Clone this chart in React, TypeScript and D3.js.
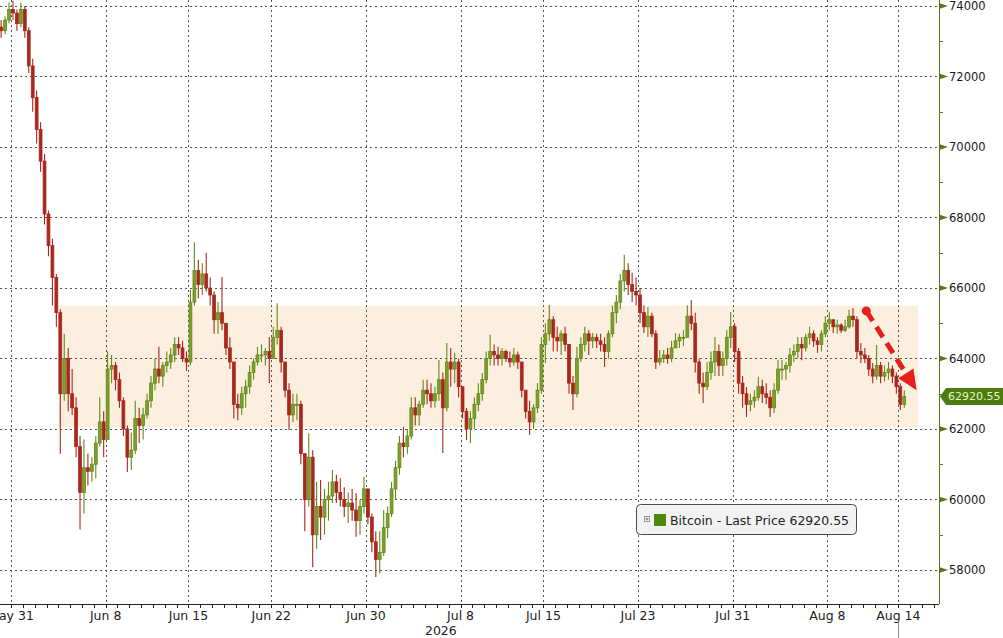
import * as React from "react";
import * as d3 from "d3";

const W = 1003;
const H = 638;
const plotRight = 939;
const plotBottom = 604;
const font = "Tahoma, 'DejaVu Sans', sans-serif";

// 8-hour candles, [high, low, close]; open = previous close
const firstOpen = 73400;
const seriesStart = new Date(2026, 4, 30);
const barHours = 8;

const mayBars = [
  [73600, 73100, 73300], [73700, 73200, 73600], [74100, 73500, 73900],
  [74150, 73600, 73800], [73900, 73300, 73500], [74100, 73400, 73900],
];

const juneBars = [
  [74000, 73100, 73300], [73400, 72100, 72300], [72500, 71000, 71400],
  [71600, 70100, 70500], [70700, 69300, 69600], [69800, 67800, 68100],
  [68200, 66900, 67200], [67400, 65500, 66300], [66400, 64900, 65300],
  [65400, 61300, 63000], [64700, 62800, 64000], [64300, 62500, 63000],
  [63700, 62400, 62600], [62900, 61200, 61500], [61800, 59150, 60200],
  [61700, 59600, 60900], [61300, 60400, 60800], [61200, 60500, 61000],
  [61800, 60600, 61600], [62900, 61500, 62200], [62500, 61200, 61700],
  [64200, 61700, 63700], [64100, 63300, 63800], [63900, 63100, 63400],
  [63600, 62600, 62800], [62900, 61800, 62000], [62100, 60780, 61200],
  [61900, 60840, 61400], [62800, 61300, 62300], [62600, 61600, 62100],
  [62600, 61700, 62400], [63000, 62300, 62800], [63500, 62600, 63300],
  [64000, 63100, 63700], [64330, 63300, 63500], [63900, 63200, 63800],
  [64200, 63600, 63900], [64300, 63700, 64100], [64600, 63900, 64400],
  [64610, 64100, 64300], [64500, 63900, 64000], [64200, 63650, 63900],
  [65950, 63800, 65600], [67300, 65500, 66500], [66800, 65700, 66100],
  [66700, 65800, 66400], [67000, 65900, 66000], [66300, 65500, 65800],
  [65900, 64700, 65100], [65600, 64700, 65300], [66310, 64800, 65000],
  [65000, 64100, 64300], [64600, 63700, 63900], [63900, 62300, 62700],
  [63000, 62250, 62600], [63200, 62400, 63000], [63400, 62600, 63200],
  [63800, 63000, 63600], [64000, 63400, 63900], [64330, 63800, 64100],
  [64400, 63900, 64100], [64300, 63800, 64200], [64610, 63300, 64000],
  [64900, 64000, 64600], [65570, 64400, 64800], [64900, 63600, 63900],
  [63900, 62900, 63100], [63300, 61970, 62400], [63000, 62200, 62700],
  [63000, 62250, 62700], [62800, 61000, 61300], [61300, 59100, 60000],
  [61880, 59800, 61200], [61400, 58080, 59000], [60500, 58600, 59800],
  [60550, 58850, 59500], [60300, 59000, 60000], [60500, 59400, 60100],
  [60840, 59900, 60500], [60700, 59900, 60200], [60600, 59800, 60000],
  [60350, 59500, 59800], [60200, 59330, 59900], [60300, 59400, 59700],
  [60180, 58940, 59400], [60000, 59000, 59800], [60640, 59600, 60300],
  [60300, 59300, 59500], [59600, 58500, 58800], [59100, 57800, 58300],
];

const julyBars = [
  [59100, 57900, 58500], [59700, 58400, 59200], [59800, 58900, 59600],
  [60500, 59500, 60300], [61100, 60000, 60900], [61800, 60700, 61600],
  [62060, 61200, 61500], [62000, 61300, 61800], [62900, 61700, 62600],
  [62900, 62100, 62400], [62800, 62100, 62700], [63400, 62600, 63100],
  [63400, 62700, 63000], [63300, 62600, 62800], [63200, 62600, 63000],
  [63960, 62800, 63400], [63600, 61320, 62600], [64440, 62500, 63900],
  [64300, 63200, 63700], [64160, 63300, 63900], [64000, 62900, 63200],
  [63200, 62300, 62500], [62600, 61690, 62000], [62500, 61600, 62300],
  [62900, 62000, 62700], [63300, 62500, 63000], [63590, 62800, 63400],
  [64200, 63300, 64000], [64670, 63800, 64200], [64400, 63800, 64100],
  [64330, 63800, 64000], [64300, 63800, 64200], [64250, 63900, 64000],
  [64200, 63750, 63900], [64300, 63800, 64100], [64200, 63700, 63900],
  [63900, 62900, 63100], [63100, 62300, 62500], [62800, 61830, 62200],
  [62700, 62000, 62600], [63300, 62450, 63100], [64600, 63000, 64400],
  [65000, 63870, 64700], [65520, 64500, 65100], [65200, 64200, 64600],
  [64900, 64200, 64500], [64800, 64100, 64700], [64900, 64200, 64400],
  [64400, 63000, 63300], [63500, 62540, 63000], [64330, 62900, 64000],
  [64600, 63900, 64400], [64900, 64200, 64700], [64800, 64100, 64500],
  [64720, 64300, 64600], [64700, 64300, 64500], [64700, 64200, 64400],
  [64600, 63760, 64200], [64800, 64000, 64700], [65500, 64600, 65300],
  [65800, 65000, 65600], [66400, 65400, 66200], [66940, 65900, 66500],
  [66700, 65800, 66100], [66430, 65600, 65900], [66300, 65500, 65800],
  [66000, 65000, 65300], [65500, 64720, 64900], [65460, 64610, 65200],
  [65300, 64600, 64700], [64800, 63700, 63900], [64240, 63800, 64000],
  [64240, 63870, 64100], [64300, 63850, 64000], [64500, 63900, 64300],
  [64720, 64300, 64500], [64700, 64300, 64600], [64800, 64350, 64600],
  [65500, 64600, 65200], [65660, 64800, 65000], [65300, 63600, 63900],
  [64000, 63000, 63300], [63600, 62740, 63200], [63900, 63100, 63600],
  [64200, 63400, 63900], [64610, 63500, 64200], [64400, 63500, 63800],
  [64200, 63500, 64000], [64800, 63800, 64600], [65320, 64300, 64900],
  [65000, 63900, 64200], [64300, 63000, 63300], [63500, 62600, 63000],
];

const augustBars = [
  [63190, 62340, 62700], [63000, 62500, 62800], [63100, 62600, 62900],
  [63480, 62800, 63200], [63400, 62740, 63000], [63300, 62700, 62900],
  [63100, 62340, 62600], [63300, 62450, 63100], [63960, 63000, 63700],
  [63960, 63400, 63700], [63900, 63400, 63800], [64300, 63600, 64100],
  [64400, 63900, 64200], [64610, 64000, 64400], [64600, 63950, 64300],
  [64700, 64200, 64600], [64900, 64400, 64700], [64800, 64330, 64500],
  [64600, 64160, 64400], [64800, 64200, 64700], [65200, 64600, 65000],
  [65320, 64800, 65100], [65100, 64720, 64900], [65100, 64700, 64950],
  [65000, 64720, 64800], [65100, 64750, 64900], [65380, 64850, 65200],
  [65430, 64900, 65100], [65200, 64000, 64200], [64440, 63870, 64100],
  [64300, 63870, 64000], [64100, 63500, 63700], [63870, 63300, 63500],
  [64380, 63400, 63800], [63900, 63300, 63500], [63800, 63350, 63600],
  [63900, 63400, 63700], [63800, 63300, 63500], [63600, 63000, 63200],
  [63300, 62540, 62700], [63100, 62600, 62920.55],
];

const tickDates = [
  new Date(2026, 4, 31), new Date(2026, 5, 8), new Date(2026, 5, 15),
  new Date(2026, 5, 22), new Date(2026, 5, 30), new Date(2026, 6, 8),
  new Date(2026, 6, 15), new Date(2026, 6, 23), new Date(2026, 6, 31),
  new Date(2026, 7, 8), new Date(2026, 7, 14),
];
const tickLabels = [
  "May 31", "Jun 8", "Jun 15", "Jun 22", "Jun 30", "Jul 8",
  "Jul 15", "Jul 23", "Jul 31", "Aug 8", "Aug 14",
];
const yearLabel = "2026";
const yearLabelDate = new Date(2026, 6, 6, 8);
const currentDate = new Date(2026, 7, 14);

const priceTicks = d3.range(58000, 74001, 2000);
const minorPriceTicks = d3.range(59000, 74000, 2000);
const lastPrice = 62920.55;
const legendText = "Bitcoin - Last Price 62920.55";

const bandValues = [62050, 65500];
const bandDates = [new Date(2026, 5, 4), new Date(2026, 7, 15, 16)];
const arrowFrom = { date: new Date(2026, 7, 11, 7), value: 65350 };
const arrowTo = { date: new Date(2026, 7, 15, 13), value: 63100 };

const upColor = "#5f8a18";
const upFill = "#7f9f2c";
const downColor = "#a8281e";
const axisGreen = "#55781a";
const arrowRed = "#e5201b";

export default function App() {
  const x = d3
    .scaleTime()
    .domain([new Date(2026, 4, 30, 1, 40), new Date(2026, 7, 17, 10, 30)])
    .range([0, plotRight]);
  const y = d3.scaleLinear().domain([57035, 74170]).range([plotBottom, 0]);

  const all = [...mayBars, ...juneBars, ...julyBars, ...augustBars];
  const bars = all.map((b, i) => ({
    t: d3.timeHour.offset(seriesStart, i * barHours + barHours / 2),
    open: i === 0 ? firstOpen : all[i - 1][2],
    high: b[0],
    low: b[1],
    close: b[2],
  }));
  const step = x(d3.timeHour.offset(seriesStart, barHours)) - x(seriesStart);
  const bodyW = step * 0.72;

  const dayTicks = d3
    .timeDay.range(new Date(2026, 4, 30), new Date(2026, 7, 18))
    .filter((d) => x(d) >= 0 && x(d) <= plotRight);

  // arrow geometry
  const ax0 = x(arrowFrom.date);
  const ay0 = y(arrowFrom.value);
  const ax1 = x(arrowTo.date);
  const ay1 = y(arrowTo.value);
  const len = Math.hypot(ax1 - ax0, ay1 - ay0);
  const ux = (ax1 - ax0) / len;
  const uy = (ay1 - ay0) / len;
  const headL = 20;
  const headW = 9;
  const bx = ax1 - ux * headL;
  const by = ay1 - uy * headL;
  const head = [
    [ax1, ay1],
    [bx - uy * headW, by + ux * headW],
    [bx + uy * headW, by - ux * headW],
  ]
    .map((p) => p.join(","))
    .join(" ");

  const ly = y(lastPrice);

  return (
    <svg
      width={W}
      height={H}
      style={{ position: "absolute", left: 0, top: 0, background: "#fff" }}
      fontFamily={font}
    >
      <defs>
        <clipPath id="plot">
          <rect x={0} y={0} width={plotRight} height={plotBottom} />
        </clipPath>
      </defs>

      {/* highlighted range */}
      <rect
        x={x(bandDates[0])}
        y={y(bandValues[1])}
        width={x(bandDates[1]) - x(bandDates[0])}
        height={y(bandValues[0]) - y(bandValues[1])}
        fill="#fdefdf"
      />

      {/* grid */}
      {priceTicks.map((v) => (
        <line
          key={"h" + v}
          x1={0}
          x2={plotRight}
          y1={Math.round(y(v)) + 0.5}
          y2={Math.round(y(v)) + 0.5}
          stroke="#555"
          strokeDasharray="2,3"
        />
      ))}
      {tickDates.map((d, i) => (
        <line
          key={"v" + i}
          x1={Math.round(x(d)) + 0.5}
          x2={Math.round(x(d)) + 0.5}
          y1={0}
          y2={plotBottom}
          stroke="#555"
          strokeDasharray="2,3"
        />
      ))}

      {/* candles */}
      <g clipPath="url(#plot)">
        {bars.map((b, i) => {
          const up = b.close >= b.open;
          const c = up ? upColor : downColor;
          const cx = x(b.t);
          const top = y(Math.max(b.open, b.close));
          const h = Math.max(1, y(Math.min(b.open, b.close)) - top);
          return (
            <g key={i}>
              <line x1={cx} x2={cx} y1={y(b.high)} y2={y(b.low)} stroke={c} strokeWidth={1.1} />
              <rect
                x={cx - bodyW / 2}
                y={top}
                width={bodyW}
                height={h}
                fill={up ? upFill : downColor}
                stroke={c}
                strokeWidth={0.8}
              />
            </g>
          );
        })}
      </g>

      {/* arrow annotation */}
      <line
        x1={ax0}
        y1={ay0}
        x2={bx + ux * 2}
        y2={by + uy * 2}
        stroke={arrowRed}
        strokeWidth={5}
        strokeDasharray="12,7"
      />
      <circle cx={ax0} cy={ay0} r={4.5} fill={arrowRed} />
      <polygon points={head} fill={arrowRed} />

      {/* bottom axis */}
      <line x1={0} x2={plotRight} y1={plotBottom + 0.5} y2={plotBottom + 0.5} stroke="#222" />
      {dayTicks.map((d, i) => (
        <line
          key={"d" + i}
          x1={Math.round(x(d)) + 0.5}
          x2={Math.round(x(d)) + 0.5}
          y1={plotBottom}
          y2={plotBottom + 4}
          stroke="#222"
        />
      ))}
      {tickDates.map((d, i) => (
        <text
          key={"xl" + i}
          x={x(d)}
          y={620}
          textAnchor="middle"
          fontSize={12.5}
          fill="#222"
        >
          {tickLabels[i]}
        </text>
      ))}
      <text x={x(yearLabelDate)} y={635} textAnchor="middle" fontSize={12.5} fill="#222">
        {yearLabel}
      </text>
      <line
        x1={Math.round(x(currentDate)) + 0.5}
        x2={Math.round(x(currentDate)) + 0.5}
        y1={621}
        y2={H}
        stroke="#888"
      />

      {/* right axis */}
      <line x1={plotRight + 0.5} x2={plotRight + 0.5} y1={0} y2={plotBottom} stroke={axisGreen} />
      {minorPriceTicks.map((v) => (
        <line
          key={"m" + v}
          x1={plotRight}
          x2={plotRight + 4}
          y1={Math.round(y(v)) + 0.5}
          y2={Math.round(y(v)) + 0.5}
          stroke={axisGreen}
        />
      ))}
      {priceTicks.map((v) => (
        <g key={"yl" + v}>
          <polygon
            points={`${plotRight},${y(v) - 3} ${plotRight + 9},${y(v)} ${plotRight},${y(v) + 3}`}
            fill={axisGreen}
          />
          <text x={949} y={y(v)} dy="0.36em" fontSize={11.5} fill="#1a1a1a">
            {v}
          </text>
        </g>
      ))}

      {/* last price tag */}
      <polygon
        points={`${plotRight + 1},${ly} ${plotRight + 7},${ly - 8.5} ${W},${ly - 8.5} ${W},${ly + 8.5} ${plotRight + 7},${ly + 8.5}`}
        fill="#4d7b10"
      />
      <text x={948} y={ly} dy="0.36em" fontSize={11} fill="#e6f4c6">
        {lastPrice.toFixed(2)}
      </text>

      {/* legend */}
      <rect x={636.5} y={504.5} width={220} height={30} rx={4} fill="#f2f2f2" stroke="#4a4a4a" />
      <rect x={644.5} y={516.5} width={5} height={5} fill="#fff" stroke="#999" />
      <line x1={645.5} x2={648.5} y1={519} y2={519} stroke="#777" />
      <line x1={647} x2={647} y1={517.5} y2={520.5} stroke="#777" />
      <rect x={654} y={514} width={12} height={12} fill="#4e8a0e" />
      <text
        x={670}
        y={525}
        fontSize={13}
        fill="#222"
        textLength={179}
        lengthAdjust="spacingAndGlyphs"
      >
        {legendText}
      </text>
    </svg>
  );
}
